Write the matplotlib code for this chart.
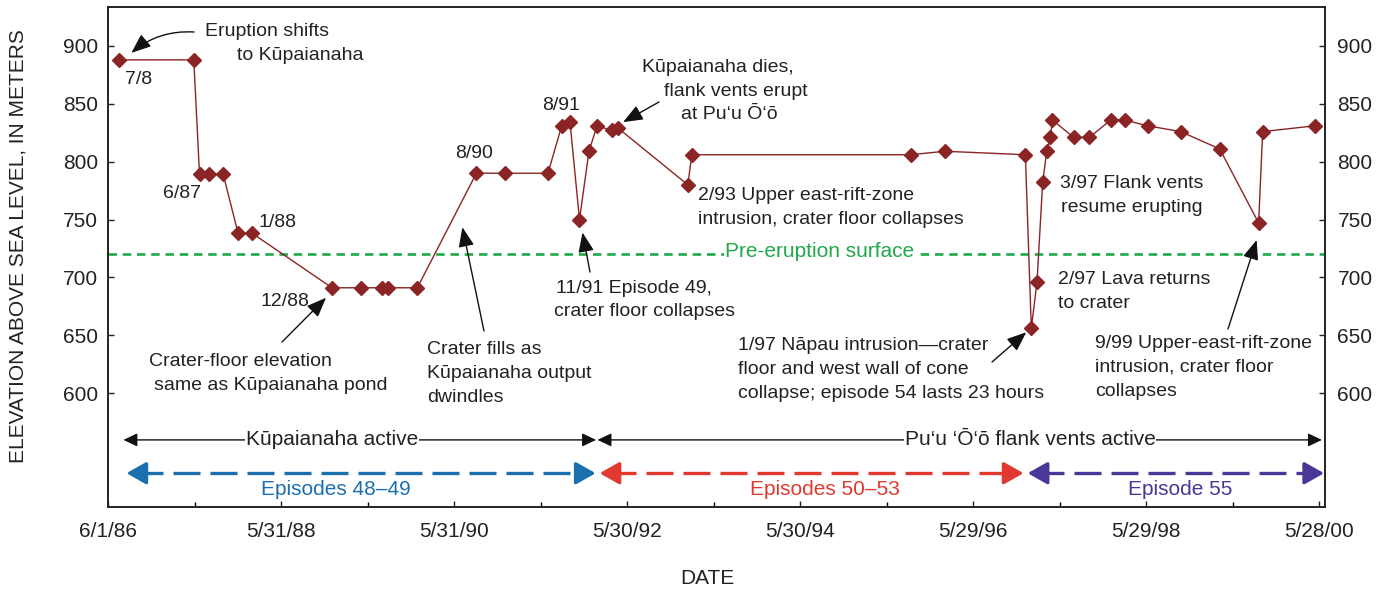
import matplotlib
matplotlib.use("Agg")
import matplotlib.pyplot as plt
import matplotlib.dates as mdates
from matplotlib.transforms import offset_copy, blended_transform_factory
import pandas as pd

plt.rcParams['font.family'] = ['Liberation Sans', 'DejaVu Sans']

# ---------------- data ----------------
survey_dates = [
    "1986-07-19", "1987-05-29", "1987-06-22", "1987-08-03", "1987-09-30",
    "1987-12-02", "1988-01-31", "1989-01-01", "1989-05-05", "1989-08-01",
    "1989-08-25", "1989-12-27", "1990-09-02", "1991-01-02", "1991-07-01",
    "1991-08-28", "1991-10-02", "1991-11-11", "1991-12-21", "1992-01-24",
    "1992-03-28", "1992-04-22", "1993-02-10", "1993-02-27", "1995-09-08",
    "1996-01-31", "1997-01-04", "1997-01-29", "1997-02-22", "1997-03-18",
    "1997-04-04", "1997-04-20", "1997-04-28", "1997-07-27", "1997-10-01",
    "1997-12-30", "1998-02-27", "1998-06-04", "1998-10-21", "1999-04-04",
    "1999-09-15", "1999-10-02", "2000-05-10",
]
elevation_m = [
    888, 888, 789, 789, 789,
    738, 738, 691, 691, 691,
    691, 691, 790, 790, 790,
    831, 834, 750, 809, 831,
    827, 829, 780, 806, 806,
    809, 806, 656, 696, 782,
    809, 821, 836, 821, 821,
    836, 836, 831, 826, 811,
    747, 826, 831,
]

tick_labels = ["6/1/86", "5/31/88", "5/31/90", "5/30/92",
               "5/30/94", "5/29/96", "5/29/98", "5/28/00"]
y_ticks = [600, 650, 700, 750, 800, 850, 900]
pre_eruption_surface = 720

activity_labels = ["Kūpaianaha active", "Pu‘u ‘Ō‘ō flank vents active"]
activity_start = ["1986-08-05", "1992-01-26"]
activity_end = ["1992-01-20", "2000-06-08"]

episode_labels = ["Episodes 48–49", "Episodes 50–53", "Episode 55"]
episode_start = ["1986-08-18", "1992-02-04", "1997-01-14"]
episode_end = ["1992-01-18", "1996-12-27", "2000-06-17"]
episode_colors = ["#1b6fae", "#e03a30", "#4b3797"]

# ---------------- style ----------------
LINE = "#8b2525"
GREEN = "#20a84a"
FS = 14
TFS = 15
W, H = 1385, 590

fig = plt.figure(figsize=(W / 100, H / 100), dpi=100)
ax = fig.add_axes([108 / W, 1 - 507 / H, (1325 - 108) / W, (507 - 7) / H])

xd = mdates.date2num(pd.to_datetime(survey_dates))
ax.plot(xd, elevation_m, color=LINE, lw=1.0, marker='D', ms=7.3,
        mfc=LINE, mec=LINE, zorder=5)

tick_dates = pd.to_datetime(tick_labels, format="%m/%d/%y")
tick_num = mdates.date2num(tick_dates)
minor_num = mdates.date2num(tick_dates[:-1] + pd.Timedelta(days=365))
ax.set_xlim(tick_num[0], tick_num[-1] + 24)
ax.set_ylim(501.5, 933.7)
ax.set_xticks(tick_num)
ax.set_xticklabels(tick_labels)
ax.set_xticks(minor_num, minor=True)
ax.set_yticks(y_ticks)

ax2 = ax.twinx()
ax2.set_ylim(ax.get_ylim())
ax2.set_yticks(y_ticks)

for a in (ax, ax2):
    for s in a.spines.values():
        s.set_linewidth(1.2)
        s.set_color("#222222")
ax.tick_params(axis='both', which='major', direction='in', length=4.5,
               width=1.0, labelsize=TFS, colors="#222222")
ax.tick_params(axis='x', which='major', pad=11)
ax.tick_params(axis='y', which='major', pad=7)
ax.tick_params(axis='x', which='minor', direction='in', length=3.5, width=1.0)
ax2.tick_params(axis='y', direction='in', length=4.5, width=1.0,
                labelsize=TFS, pad=9, colors="#222222")

# pre-eruption surface
ax.axhline(pre_eruption_surface, color=GREEN, lw=1.9, ls=(0, (3.2, 2.2)), zorder=2)


def ftxt(x, y, s, color="#222222", size=FS, ha='left', bg=False, **kw):
    t = fig.text(x / W, 1 - y / H, s, color=color, fontsize=size, ha=ha,
                 va='center', **kw)
    if bg:
        t.set_bbox(dict(facecolor='white', edgecolor='none', pad=1.0))
    t.set_zorder(10)
    return t


def arrow_to_point(idx, dx, dy, tail_x, tail_y, rad=0.0):
    tr = offset_copy(ax.transData, fig=fig, x=dx, y=dy, units='dots')
    ax.annotate('', xy=(xd[idx], elevation_m[idx]), xycoords=tr,
                xytext=(tail_x, H - tail_y), textcoords='figure pixels',
                arrowprops=dict(arrowstyle='-|>,head_length=0.6,head_width=0.24',
                                mutation_scale=20, color='#111111', lw=1.0,
                                shrinkA=0, shrinkB=0,
                                connectionstyle=f'arc3,rad={rad}'),
                zorder=8)


# point labels
ftxt(125, 79, "7/8")
ftxt(163, 193, "6/87")
ftxt(258, 222, "1/88")
ftxt(260, 302, "12/88")
ftxt(455, 153, "8/90")
ftxt(542, 105, "8/91")

# annotations
ftxt(205, 32, "Eruption shifts")
ftxt(237, 56, "to Kūpaianaha")
arrow_to_point(0, 12, 7, 194, 32, rad=0.2)

ftxt(149, 362, "Crater-floor elevation")
ftxt(154, 386, "same as Kūpaianaha pond")
arrow_to_point(7, -6, -10, 282, 342)

ftxt(427, 349, "Crater fills as")
ftxt(427, 373, "Kūpaianaha output")
ftxt(427, 397, "dwindles")
arrow_to_point(12, -14, -54, 484, 331)

ftxt(642, 68, "Kūpaianaha dies,")
ftxt(664, 91, "flank vents erupt")
ftxt(681, 114, "at Pu‘u Ō‘ō")
arrow_to_point(21, 5, 6, 659, 102)

ftxt(698, 196, "2/93 Upper east-rift-zone")
ftxt(698, 220, "intrusion, crater floor collapses")

ftxt(725, 252, "Pre-eruption surface", color=GREEN, size=15, bg=True)

ftxt(556, 288, "11/91 Episode 49,")
ftxt(554, 312, "crater floor collapses")
arrow_to_point(17, 3, -13, 590, 272)

ftxt(738, 345, "1/97 Nāpau intrusion—crater")
ftxt(738, 369, "floor and west wall of cone")
ftxt(738, 393, "collapse; episode 54 lasts 23 hours")
arrow_to_point(27, -5, -4, 992, 362)

ftxt(1060, 184, "3/97 Flank vents")
ftxt(1061, 208, "resume erupting")

ftxt(1058, 279, "2/97 Lava returns")
ftxt(1058, 303, "to crater")

ftxt(1095, 343, "9/99 Upper-east-rift-zone")
ftxt(1095, 367, "intrusion, crater floor")
ftxt(1095, 391, "collapses")
arrow_to_point(40, -2, -17, 1228, 329)

blend = blended_transform_factory(ax.transAxes, ax.transData)

# activity periods (thin black double arrows)
act_y = 559.5
act_label_x = [0.184, 0.7576]
for lab, s, e, lx in zip(activity_labels, activity_start, activity_end, act_label_x):
    s_n = mdates.date2num(pd.Timestamp(s))
    e_n = mdates.date2num(pd.Timestamp(e))
    ax.annotate('', xy=(e_n, act_y), xytext=(s_n, act_y),
                arrowprops=dict(arrowstyle='<|-|>,head_length=0.42,head_width=0.2',
                                mutation_scale=20, color='#111111', lw=1.0,
                                shrinkA=0, shrinkB=0), zorder=4)
    ax.text(lx, act_y, lab, fontsize=FS + 1, ha='center', transform=blend,
            va='center', color='#222222', zorder=6,
            bbox=dict(facecolor='white', edgecolor='none', pad=0.5))

# eruption episodes (dashed coloured double arrows)
ep_y = 530.7
ep_label_x = [0.187, 0.5888, 0.8807]
head_days = 40
for lab, s, e, c, lx in zip(episode_labels, episode_start, episode_end,
                            episode_colors, ep_label_x):
    s_n = mdates.date2num(pd.Timestamp(s))
    e_n = mdates.date2num(pd.Timestamp(e))
    ax.plot([s_n + head_days, e_n - head_days], [ep_y, ep_y], color=c, lw=2.4,
            ls=(0, (8.1, 3.0)), solid_capstyle='butt', zorder=4)
    for tip, tail in ((s_n, s_n + head_days + 10), (e_n, e_n - head_days - 10)):
        ax.annotate('', xy=(tip, ep_y), xytext=(tail, ep_y),
                    arrowprops=dict(arrowstyle='-|>,head_length=0.6,head_width=0.34',
                                    mutation_scale=20, color=c, lw=2.4,
                                    shrinkA=0, shrinkB=0), zorder=4)
    ax.text(lx, 517, lab, fontsize=FS + 1, ha='center', transform=blend,
            va='center', color=c)

# axis titles
ftxt(18, 246, "ELEVATION ABOVE SEA LEVEL, IN METERS", size=TFS, ha='center',
     rotation=90)
ftxt(707, 578, "DATE", size=TFS, ha='center')

fig.savefig("out.png", dpi=100)
